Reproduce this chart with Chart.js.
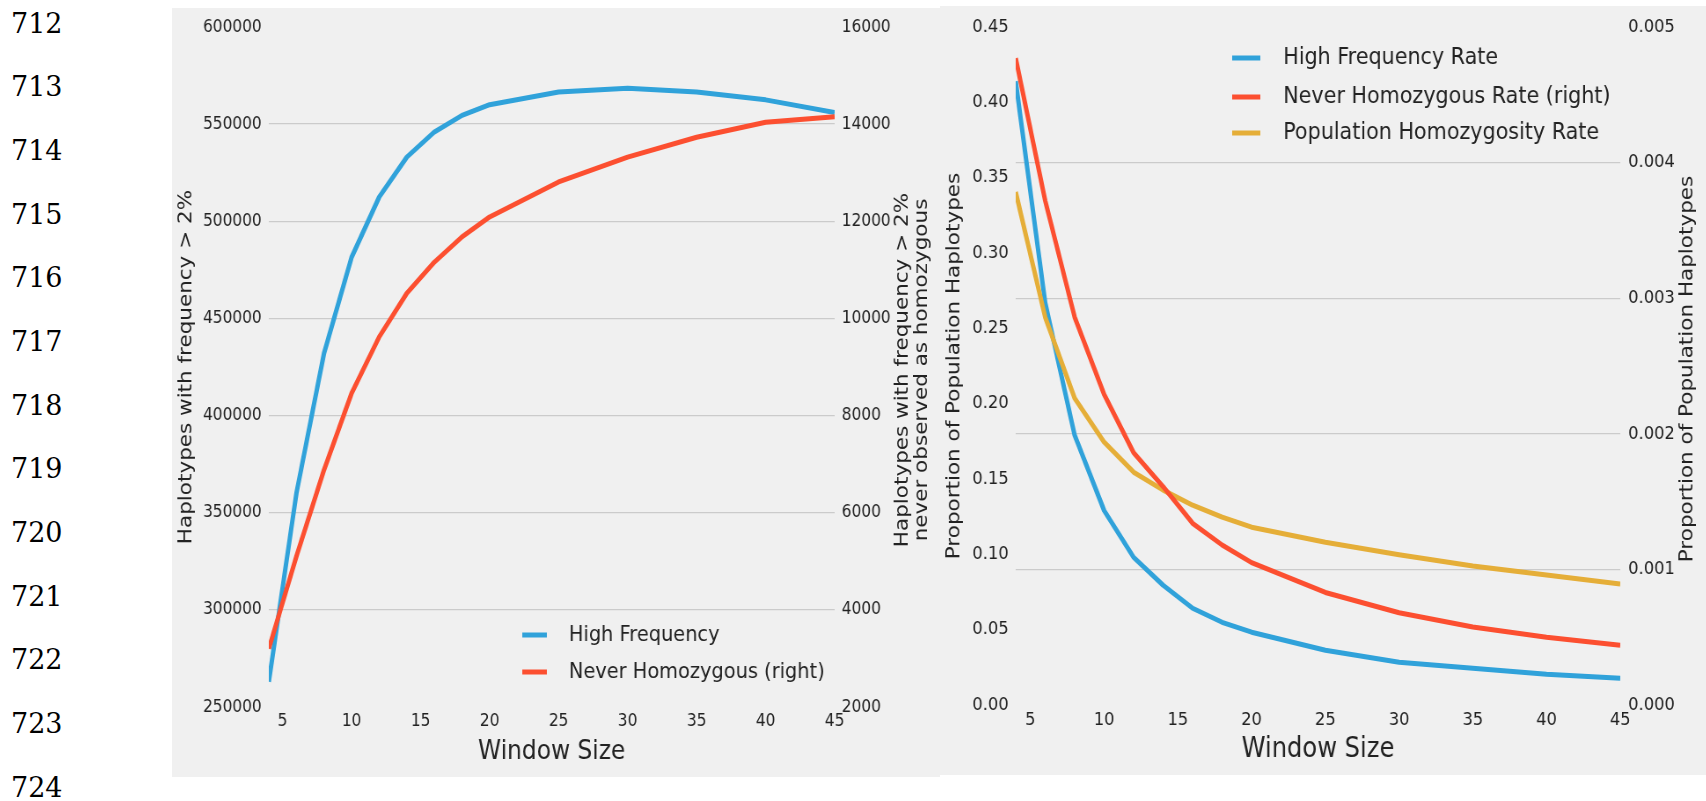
<!DOCTYPE html>
<html>
<head>
<meta charset="utf-8">
<title>Haplotypes by window size</title>
<script src="https://cdn.jsdelivr.net/npm/chart.js@4.4.1/dist/chart.umd.min.js"></script>
<style>
  body { margin: 0; background: #fff; width: 1706px; height: 801px; position: relative; overflow: hidden; }
  .lineno { position: absolute; left: 11px; font-family: "DejaVu Serif", serif; font-size: 27px; line-height: 32px; color: #000; }
  .panel { position: absolute; background: #f0f0f0; overflow: hidden; }
  .panel canvas { display: block; transform: scaleX(0.88); transform-origin: 0 0; }
</style>
</head>
<body>

<div id="linenos"></div>

<div class="panel" style="left:172px;top:8px;width:768px;height:769px">
  <canvas id="countChart" width="873" height="769"></canvas>
</div>

<div class="panel" style="left:940px;top:6px;width:766px;height:769px">
  <canvas id="rateChart" width="870" height="769"></canvas>
</div>

<script>

// DATA
const windowSizes = [4, 6, 8, 10, 12, 14, 16, 18, 20, 25, 30, 35, 40, 45];

const highFreqCount = [263000, 360000, 432000, 481500, 512500, 533000, 546000, 554500, 560000, 566500, 568500, 566500, 562500, 556000];
const neverHomCount = [3200, 5100, 6880, 8460, 9620, 10520, 11160, 11680, 12090, 12810, 13320, 13730, 14040, 14150];

const highFreqRate = [0.414, 0.267, 0.179, 0.129, 0.098, 0.0795, 0.0642, 0.0549, 0.0483, 0.0363, 0.0284, 0.0244, 0.0204, 0.0177];
const neverHomRate = [0.00477, 0.00372, 0.00286, 0.00229, 0.00186, 0.00161, 0.00134, 0.00118, 0.00105, 0.00083, 0.00068, 0.000575, 0.0005, 0.00044];
const popHomRate = [0.3405, 0.2574, 0.2036, 0.1744, 0.1545, 0.1426, 0.1326, 0.1247, 0.118, 0.108, 0.0997, 0.0922, 0.0863, 0.0803];

// TICKS
const xTicks = [5, 10, 15, 20, 25, 30, 35, 40, 45];
const countTicks = [250000, 300000, 350000, 400000, 450000, 500000, 550000, 600000];
const neverCountTicks = [2000, 4000, 6000, 8000, 10000, 12000, 14000, 16000];
const rateTicks = [0, 0.05, 0.1, 0.15, 0.2, 0.25, 0.3, 0.35, 0.4, 0.45];
const neverRateTicks = [0, 0.001, 0.002, 0.003, 0.004, 0.005];

const lineNumbers = [712, 713, 714, 715, 716, 717, 718, 719, 720, 721, 722, 723, 724];


// LINE NUMBERS DOWN THE MARGIN
const linenos = document.getElementById("linenos");
lineNumbers.forEach((n, i) => {
    linenos.innerHTML += `<div class="lineno" style="top:${(23 + i * 63.67 - 15.5).toFixed(1)}px">${n}</div>`;
});


Chart.defaults.font.family = "'DejaVu Sans', sans-serif";
Chart.defaults.color = "#222";

const BLUE = "#30a2da";
const RED = "#fc4f30";
const GOLD = "#e5ae38";
const GRID = "#cbcbcb";

function points(values){
    return windowSizes.map((w, i) => ({ x: w, y: values[i] }));
}

function useTicks(list){
    return function(scale){
        scale.ticks = list.map(v => ({ value: v }));
    };
}

function innerGrid(c){
    const last = c.scale.ticks.length - 1;
    return (c.index === 0 || c.index === last) ? "rgba(0,0,0,0)" : GRID;
}

function lineSet(label, values, color, axis, order){
    return {
        label: label,
        data: points(values),
        borderColor: color,
        backgroundColor: color,
        borderWidth: 5,
        pointRadius: 0,
        tension: 0,
        borderJoinStyle: "round",
        yAxisID: axis,
        order: order
    };
}


// LEGEND INSIDE THE PLOT AND RIGHT-HAND TITLE READING UPWARDS
const decorations = {
    id: "decorations",
    afterDraw(chart, args, opts){

        const ctx = chart.ctx;
        ctx.save();

        ctx.font = `${opts.legendSize}px 'DejaVu Sans'`;
        ctx.textBaseline = "middle";
        ctx.textAlign = "left";

        opts.legendOrder.forEach((dsIndex, i) => {
            const ds = chart.data.datasets[dsIndex];
            const y = opts.legendY[i];
            ctx.strokeStyle = ds.borderColor;
            ctx.lineWidth = 5;
            ctx.beginPath();
            ctx.moveTo(opts.legendX, y);
            ctx.lineTo(opts.legendX + opts.legendLine, y);
            ctx.stroke();
            ctx.fillStyle = "#222";
            ctx.fillText(ds.label, opts.legendText, y);
        });

        const s = chart.scales.y1;
        const cy = (s.top + s.bottom) / 2 + 3;
        ctx.font = "21.5px 'DejaVu Sans'";
        ctx.textAlign = "center";
        ctx.fillStyle = "#222";
        const n = opts.rightTitle.length;
        opts.rightTitle.forEach((line, i) => {
            const x = s.right - 21 - (n - 1 - i) * 21.3;
            ctx.save();
            ctx.translate(x, cy);
            ctx.rotate(-Math.PI / 2);
            ctx.fillText(line, 0, 0);
            ctx.restore();
        });

        ctx.restore();
    }
};


function xAxis(titleSize, titleBottom){
    return {
        type: "linear",
        min: 4,
        max: 45,
        afterBuildTicks: useTicks(xTicks),
        afterFit(scale){ scale.height = 70; },
        grid: { display: false, drawTicks: false },
        border: { display: false },
        ticks: { font: { size: titleSize > 27 ? 18.5 : 17.5 }, padding: 4, maxRotation: 0, autoSkip: false },
        title: {
            display: true,
            text: "Window Size",
            font: { size: titleSize },
            padding: { top: 0, bottom: titleBottom }
        }
    };
}


// LEFT: COUNTS
new Chart(document.getElementById("countChart").getContext("2d"), {
    type: "line",
    data: {
        datasets: [
            lineSet("High Frequency", highFreqCount, BLUE, "y", 1),
            lineSet("Never Homozygous (right)", neverHomCount, RED, "y1", 0)
        ]
    },
    options: {
        responsive: false,
        animation: false,
        devicePixelRatio: 1,
        layout: { padding: { top: 19, left: 0, right: 0, bottom: 0 } },
        scales: {
            x: xAxis(26.5, 9.4),
            y: {
                position: "left",
                min: 250000,
                max: 600000,
                afterBuildTicks: useTicks(countTicks),
                afterFit(scale){ scale.width = 110; },
                grid: { color: innerGrid, lineWidth: 1.3, drawTicks: false },
                border: { display: false },
                ticks: { font: { size: 17.5 }, padding: 8, callback: v => String(v) },
                title: {
                    display: true,
                    text: "Haplotypes with frequency > 2%",
                    font: { size: 21.5 },
                    padding: { top: 4, bottom: 0 }
                }
            },
            y1: {
                position: "right",
                min: 2000,
                max: 16000,
                afterBuildTicks: useTicks(neverCountTicks),
                afterFit(scale){ scale.width = 120; },
                grid: { display: false, drawTicks: false },
                border: { display: false },
                ticks: { font: { size: 17.5 }, padding: 8, callback: v => String(v) }
            }
        },
        plugins: {
            legend: { display: false },
            tooltip: { enabled: false },
            decorations: {
                legendOrder: [0, 1],
                legendY: [627, 664],
                legendX: 398,
                legendLine: 28,
                legendText: 451,
                legendSize: 22,
                rightTitle: ["Haplotypes with frequency > 2%", "never observed as homozygous"]
            }
        }
    },
    plugins: [decorations]
});


// RIGHT: RATES
new Chart(document.getElementById("rateChart").getContext("2d"), {
    type: "line",
    data: {
        datasets: [
            lineSet("High Frequency Rate", highFreqRate, BLUE, "y", 2),
            lineSet("Never Homozygous Rate (right)", neverHomRate, RED, "y1", 0),
            lineSet("Population Homozygosity Rate", popHomRate, GOLD, "y", 1)
        ]
    },
    options: {
        responsive: false,
        animation: false,
        devicePixelRatio: 1,
        layout: { padding: { top: 21, left: 0, right: 0, bottom: 0 } },
        scales: {
            x: xAxis(27.5, 8.5),
            y: {
                position: "left",
                min: 0,
                max: 0.45,
                afterBuildTicks: useTicks(rateTicks),
                afterFit(scale){ scale.width = 86; },
                grid: { display: false, drawTicks: false },
                border: { display: false },
                ticks: { font: { size: 18.5 }, padding: 8, callback: v => v.toFixed(2) },
                title: {
                    display: true,
                    text: "Proportion of Population Haplotypes",
                    font: { size: 21.5 },
                    padding: { top: 4, bottom: 0 }
                }
            },
            y1: {
                position: "right",
                min: 0,
                max: 0.005,
                afterBuildTicks: useTicks(neverRateTicks),
                afterFit(scale){ scale.width = 97; },
                grid: { color: innerGrid, lineWidth: 1.3, drawTicks: false },
                border: { display: false },
                ticks: { font: { size: 18.5 }, padding: 9, callback: v => v.toFixed(3) }
            }
        },
        plugins: {
            legend: { display: false },
            tooltip: { enabled: false },
            decorations: {
                legendOrder: [0, 1, 2],
                legendY: [52, 91, 127],
                legendX: 332,
                legendLine: 32,
                legendText: 390,
                legendSize: 23.5,
                rightTitle: ["Proportion of Population Haplotypes"]
            }
        }
    },
    plugins: [decorations]
});

</script>
</body>
</html>
